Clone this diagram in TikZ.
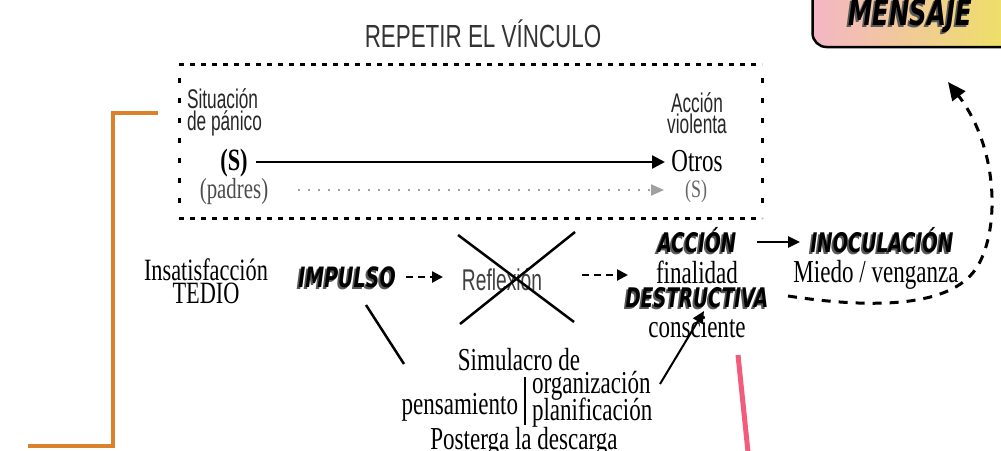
\documentclass[tikz,border=0pt]{standalone}
\usepackage{fontspec}
\usetikzlibrary{arrows.meta}
\newfontfamily\serifc[FakeStretch=0.72]{Liberation Serif}
\newfontfamily\sansc[FakeStretch=0.64]{Liberation Sans}
\newfontfamily\titlef[FakeStretch=0.7]{Liberation Sans}
\newfontfamily\comicf[FakeStretch=0.68]{DejaVu Sans}
\definecolor{orangeL}{HTML}{D9822B}
\definecolor{pinkL}{HTML}{F25C7A}
\definecolor{mpink}{HTML}{F4B6C6}
\definecolor{morange}{HTML}{F8A878}
\definecolor{myellow}{HTML}{EDE45C}
\definecolor{dotgray}{HTML}{A0A0A0}
\newcommand\cartoon[4]{%
  \node[comic=#3, text=black!65] at ([shift={(-2,2)}]#2) {#4};
  \node[comic=#3, text=black] (#1) at (#2) {#4};}
\begin{document}
\begin{tikzpicture}[x=1pt,y=-1pt,
  every node/.style={inner sep=0pt, outer sep=0pt},
  ser/.style={font=\serifc\fontsize{32}{32}\selectfont, anchor=base},
  sans/.style={font=\sansc\fontsize{27}{27}\selectfont, anchor=base, text=black!85},
  comic/.style={font=\comicf\bfseries\itshape\fontsize{#1}{#1}\selectfont, anchor=base},
  conn/.style={line width=2.5pt},
  solidarr/.style={line width=2.5pt, -{Triangle[length=13pt,width=13pt]}},
  dasharr/.style={line width=2.5pt, dash pattern=on 7pt off 5pt, -{Triangle[length=11pt,width=11pt]}},
  thinarr/.style={line width=2pt, -{Triangle[length=12pt,width=11pt]}},
  dotarr/.style={line width=2pt, dotgray, dash pattern=on 1.5pt off 8.5pt, -{Triangle[length=13pt,width=11pt]}},
  curvearr/.style={line width=3pt, dash pattern=on 9pt off 8pt, -{Triangle[length=18pt,width=16pt]}}
]
\useasboundingbox (0,0) rectangle (1001,450);
\clip (0,0) rectangle (1001,450);

% MENSAJE box
\node[draw=black, line width=2.5pt, rounded corners=14pt, minimum width=215pt, minimum height=80pt,
      left color=mpink, middle color=morange, right color=myellow] (mbox) at (920,7) {};
\cartoon{mensaje}{910,25}{36}{MENSAJE}

% title
\node[font=\titlef\fontsize{32}{32}\selectfont, anchor=base, text=black!80] (title) at (483,47) {REPETIR EL VÍNCULO};

% dashed frame
\draw[line width=3pt, dash pattern=on 5pt off 6pt] (179,64) -- (762,64);
\draw[line width=3pt, dash pattern=on 5pt off 6pt] (179,218) -- (762,218);
\draw[line width=3pt, dash pattern=on 5pt off 15pt] (179,78) -- (179,218);
\draw[line width=3pt, dash pattern=on 5pt off 15pt] (762,78) -- (762,218);

% inside frame
\node[sans, anchor=base west] (sit1) at (187,108) {Situación};
\node[sans, anchor=base west] (sit2) at (187,130) {de pánico};
\node[sans] (acc1) at (697,112) {Acción};
\node[sans] (acc2) at (697,133) {violenta};
\node[ser, font=\serifc\bfseries\fontsize{31}{31}\selectfont] (S) at (234,170) {(S)};
\node[ser, text=black!70, font=\serifc\fontsize{29}{29}\selectfont] (padres) at (234,198) {(padres)};
\node[ser] (otros) at (697,171) {Otros};
\node[ser, text=black!60, font=\serifc\fontsize{25}{25}\selectfont] (sgray) at (696,197) {(S)};
\coordinate (a1s) at (256,162);
\coordinate (a1e) at (665,162);
\draw[solidarr] (a1s) -- (a1e);
\coordinate (a2s) at (298,190);
\coordinate (a2e) at (664,190);
\draw[dotarr] (a2s) -- (a2e);

% orange bracket
\draw[orangeL, line width=4.5pt] (158,113) -- (113,113) -- (113,446) -- (28,446);

% middle row
\node[ser, font=\serifc\fontsize{31}{31}\selectfont] (insat) at (206,280) {Insatisfacción};
\node[ser, font=\serifc\fontsize{31}{31}\selectfont] (tedio) at (206,303) {TEDIO};
\cartoon{impulso}{347,287}{28}{IMPULSO}
\node[sans, font=\sansc\fontsize{30}{30}\selectfont, text=black!75] (reflex) at (502,290) {Reflexión};
\draw[conn] (458,235) -- (574,322);
\draw[conn] (575,232) -- (460,324);
\coordinate (d1s) at (406,277);
\coordinate (d1e) at (443,277);
\draw[dasharr] (d1s) -- (d1e);
\coordinate (d2s) at (582,275);
\coordinate (d2e) at (628,275);
\draw[dasharr] (d2s) -- (d2e);

\cartoon{accion}{697,252}{27}{ACCIÓN}
\node[ser] (final) at (697,283) {finalidad};
\cartoon{destr}{697,307}{27}{DESTRUCTIVA}
\node[ser] (consc) at (697,337) {consciente};
\cartoon{inoc}{882,252}{27}{INOCULACIÓN}
\node[ser] (miedo) at (876,282) {Miedo / venganza};
\coordinate (a3s) at (757,242);
\coordinate (a3e) at (800,242);
\draw[solidarr, -{Triangle[length=12pt,width=11pt]}] (a3s) -- (a3e);

% curved dashed arrow to MENSAJE
\coordinate (c1) at (788,296);
\coordinate (cm) at (975,270);
\coordinate (c2) at (948,82);
\draw[curvearr] (c1) .. controls (880,310) and (950,305) .. (cm)
   .. controls (1000,235) and (1000,150) .. (c2);

% lower part
\coordinate (l1s) at (366,305);
\coordinate (l1e) at (404,364);
\draw[conn] (l1s) -- (l1e);
\node[ser] (simul) at (519,370) {Simulacro de};
\node[ser, anchor=base east] (pensam) at (518,414) {pensamiento};
\node[ser, anchor=base west] (org) at (532,393) {organización};
\node[ser, anchor=base west] (plan) at (532,420) {planificación};
\node[ser] (poster) at (524,449) {Posterga la descarga};
\draw[conn] (525,377) -- (525,425);
\coordinate (a4s) at (660,384);
\coordinate (a4e) at (704,311);
\draw[thinarr] (a4s) -- (a4e);

% pink line
\draw[pinkL, line width=5pt] (738,355) -- (748,452);
\end{tikzpicture}
\end{document}
